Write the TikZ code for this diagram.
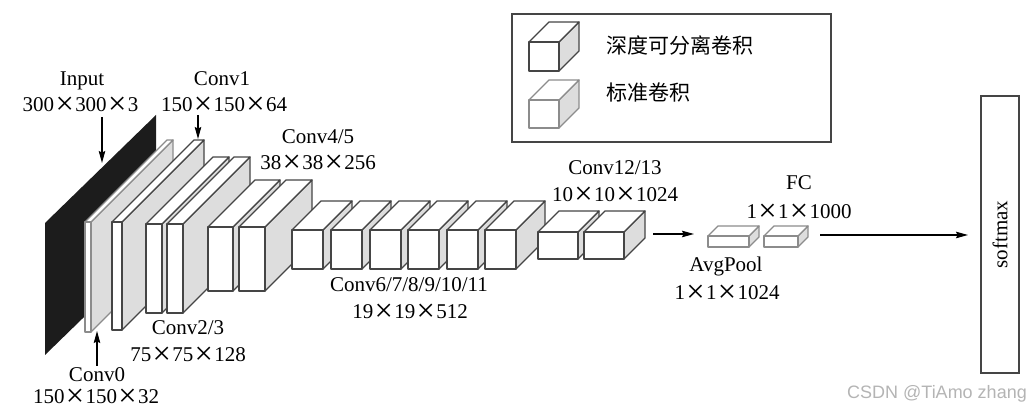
\documentclass[tikz,border=0pt]{standalone}
\usepackage{graphicx}
\usepackage{fontspec}
\setmainfont{Liberation Serif}
\newfontfamily\cjkfont{Noto Sans CJK SC}
\newfontfamily\wmfont{Liberation Sans}
\usetikzlibrary{arrows.meta}
\definecolor{edgeC}{HTML}{454545}
\definecolor{lightedgeC}{HTML}{8C8C8C}
\definecolor{sideC}{HTML}{DDDDDD}
\definecolor{panelC}{HTML}{1C1C1C}
\definecolor{wmC}{HTML}{B4B4B4}
\newcommand\tms{\makebox[1em]{\raisebox{-0.125em}[0pt][0pt]{\scalebox{1.55}{×}}}}
% name, x, y(top of front), w, h, depth, style
\newcommand\cub[7]{%
  \begin{scope}[cubeface,#7]
    \filldraw[fill=sideC] (#2+#4,#3) -- ++(#6,-#6) -- ++(0,#5) -- ++(-#6,#6) -- cycle;
    \filldraw[fill=white] (#2,#3) -- ++(#6,-#6) -- ++(#4,0) -- ++(-#6,#6) -- cycle;
    \filldraw[fill=white] (#2,#3) rectangle ++(#4,#5);
    \coordinate (#1) at (#2,#3);
  \end{scope}}
\begin{document}
\begin{tikzpicture}[x=1pt,y=-1pt,
  cubeface/.style={draw=edgeC,line width=1.3pt,line join=round},
  lbl/.style={font=\fontsize{21}{24}\selectfont,inner sep=0pt,anchor=base},
  arr/.style={-{Stealth[length=12pt,width=6.5pt,inset=1.5pt]},line width=1.2pt,black}]
\useasboundingbox (0,0) rectangle (1031,411);

% input panel
\fill[panelC] (45,223) -- (156,115) -- (156,247) -- (45,355) -- cycle;
\coordinate (inputP) at (45,223);

% layers
\cub{c0}{85}{222}{6}{110}{82}{draw=lightedgeC}
\cub{c1}{112}{222}{10}{108}{82}{}
\cub{c2}{146}{224}{16}{89}{67}{}
\cub{c3}{167}{224}{16}{89}{67}{}
\cub{c4}{208}{227}{25}{64}{47}{}
\cub{c5}{239}{227}{26}{64}{47}{}
\cub{c6}{292}{230}{31}{39}{29}{}
\cub{c7}{331}{230}{31}{39}{29}{}
\cub{c8}{370}{230}{31}{39}{29}{}
\cub{c9}{408}{230}{31}{39}{29}{}
\cub{c10}{447}{230}{31}{39}{29}{}
\cub{c11}{485}{230}{31}{39}{29}{}
\cub{c12}{538}{232}{40}{27}{21}{}
\cub{c13}{584}{232}{40}{27}{21}{}
\cub{pool}{708}{236}{41}{11}{10}{draw=lightedgeC}
\cub{fc}{764}{236}{34}{11}{10}{draw=lightedgeC}

% softmax
\node[draw=edgeC,line width=1.3pt,minimum width=38pt,minimum height=277pt,inner sep=0pt] (soft) at (1000,234.5) {};
\node[font=\fontsize{21}{24}\selectfont,rotate=90,inner sep=0pt] (softtxt) at (soft.center) {softmax};

% legend
\node[draw=edgeC,line width=1.3pt,minimum width=319pt,minimum height=128pt,inner sep=0pt] (legend) at (671.5,78) {};
\cub{lg1}{529}{42}{30}{29}{20}{draw=edgeC}
\cub{lg2}{529}{100}{30}{28}{20}{draw=lightedgeC}
\node[font=\cjkfont\fontsize{21}{24}\selectfont,anchor=west,inner sep=0pt] (lgt1) at (606,45) {深度可分离卷积};
\node[font=\cjkfont\fontsize{21}{24}\selectfont,anchor=west,inner sep=0pt] (lgt2) at (606,93) {标准卷积};

% labels
\node[lbl] (inA) at (82,86) {Input};
\node[lbl] (inB) at (80.5,112) {300\tms300\tms3};
\node[lbl] (c1A) at (222,86) {Conv1};
\node[lbl] (c1B) at (224,112) {150\tms150\tms64};
\node[lbl] (c0A) at (97,382) {Conv0};
\node[lbl] (c0B) at (96,404) {150\tms150\tms32};
\node[lbl] (c23A) at (188,335) {Conv2/3};
\node[lbl] (c23B) at (188,362) {75\tms75\tms128};
\node[lbl] (c45A) at (318,144) {Conv4/5};
\node[lbl] (c45B) at (318,170) {38\tms38\tms256};
\node[lbl] (c611A) at (409,292) {Conv6/7/8/9/10/11};
\node[lbl] (c611B) at (410,319) {19\tms19\tms512};
\node[lbl] (c1213A) at (615,175) {Conv12/13};
\node[lbl] (c1213B) at (615,202) {10\tms10\tms1024};
\node[lbl] (fcA) at (799,190) {FC};
\node[lbl] (fcB) at (799,219) {1\tms1\tms1000};
\node[lbl] (poolA) at (726,272) {AvgPool};
\node[lbl] (poolB) at (727,300) {1\tms1\tms1024};

% arrows
\coordinate (inS) at (102,117);
\coordinate (inT) at (102,163);
\coordinate (c1S) at (198,115);
\coordinate (c1T) at (198,139);
\coordinate (c0S) at (97,366);
\coordinate (c0T) at (97,331);
\coordinate (a1S) at (653,234);
\coordinate (a1T) at (694,234);
\coordinate (a2S) at (820,235);
\coordinate (a2T) at (968,235);
\draw[arr] (inS) -- (inT);
\draw[arr] (c1S) -- (c1T);
\draw[arr] (c0S) -- (c0T);
\draw[arr] (a1S) -- (a1T);
\draw[arr] (a2S) -- (a2T);

% watermark
\node[font=\wmfont\fontsize{18}{20}\selectfont,text=wmC,anchor=base east,inner sep=0pt] (wm) at (1027,399) {CSDN @TiAmo zhang};
\end{tikzpicture}
\end{document}
